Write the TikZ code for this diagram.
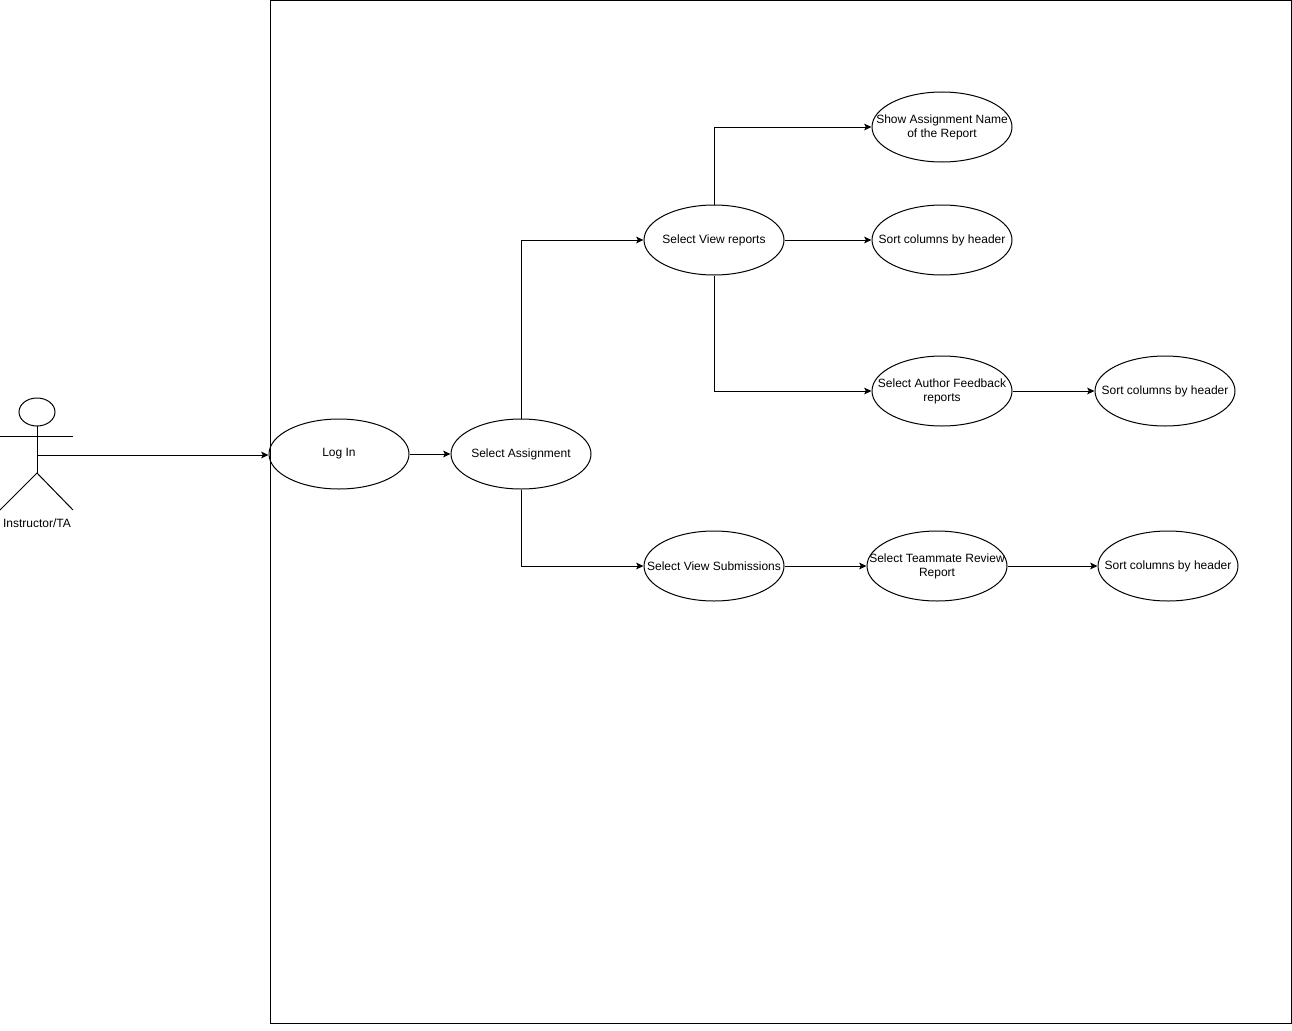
\documentclass[tikz,border=0pt]{standalone}
\usepackage{fontspec}
\setmainfont{Liberation Sans}
\usetikzlibrary{arrows.meta,shapes.geometric}
\begin{document}
\begin{tikzpicture}[x=0.75pt,y=-0.75pt,
  line width=0.75pt,
  uc/.style={draw,ellipse,minimum width=105pt,minimum height=52.5pt,inner xsep=-20pt,inner ysep=0pt,align=center,font=\fontsize{9}{10.5}\selectfont},
  conn/.style={draw,-{Stealth[length=5.5pt,width=5pt,inset=1.2pt]}}]
\useasboundingbox (0,0) rectangle (1292,1031);
% system boundary
\node[draw,rectangle,minimum width=765.75pt,minimum height=766.5pt,inner sep=0pt,anchor=north west] (sys) at (269.5,0.5) {};
% actor
\draw (37,412) ellipse [x radius=18, y radius=14];
\draw (0,436) -- (73,436);
\draw (37,426) -- (37,473);
\draw (0,510) -- (37,473) -- (73,510);
\node[font=\fontsize{9}{10.5}\selectfont] (actorlbl) at (37,523) {Instructor/TA};
\coordinate (actor) at (37,455);
% use cases
\node[uc] (login) at (339,454) {Log In};
\node[uc] (selassign) at (521,454) {Select Assignment};
\node[uc] (viewrep) at (714,240) {Select View reports};
\node[uc] (showname) at (942,127) {Show Assignment Name\\of the Report};
\node[uc] (sort1) at (942,240) {Sort columns by header};
\node[uc] (authfb) at (942,391) {Select Author Feedback\\reports};
\node[uc] (sort2) at (1165,391) {Sort columns by header};
\node[uc] (viewsub) at (714,566) {Select View Submissions};
\node[uc] (teammate) at (937,566) {Select Teammate Review\\Report};
\node[uc] (sort3) at (1168,566) {Sort columns by header};
% connectors
\draw[conn] (actor) -- (login.west |- actor);
\draw[conn] (login) -- (selassign);
\draw[conn] (selassign.north) |- (viewrep.west);
\draw[conn] (selassign.south) |- (viewsub.west);
\draw[conn] (viewrep.north) |- (showname.west);
\draw[conn] (viewrep) -- (sort1);
\draw[conn] (viewrep.south) |- (authfb.west);
\draw[conn] (authfb) -- (sort2);
\draw[conn] (viewsub) -- (teammate);
\draw[conn] (teammate) -- (sort3);
\end{tikzpicture}
\end{document}
